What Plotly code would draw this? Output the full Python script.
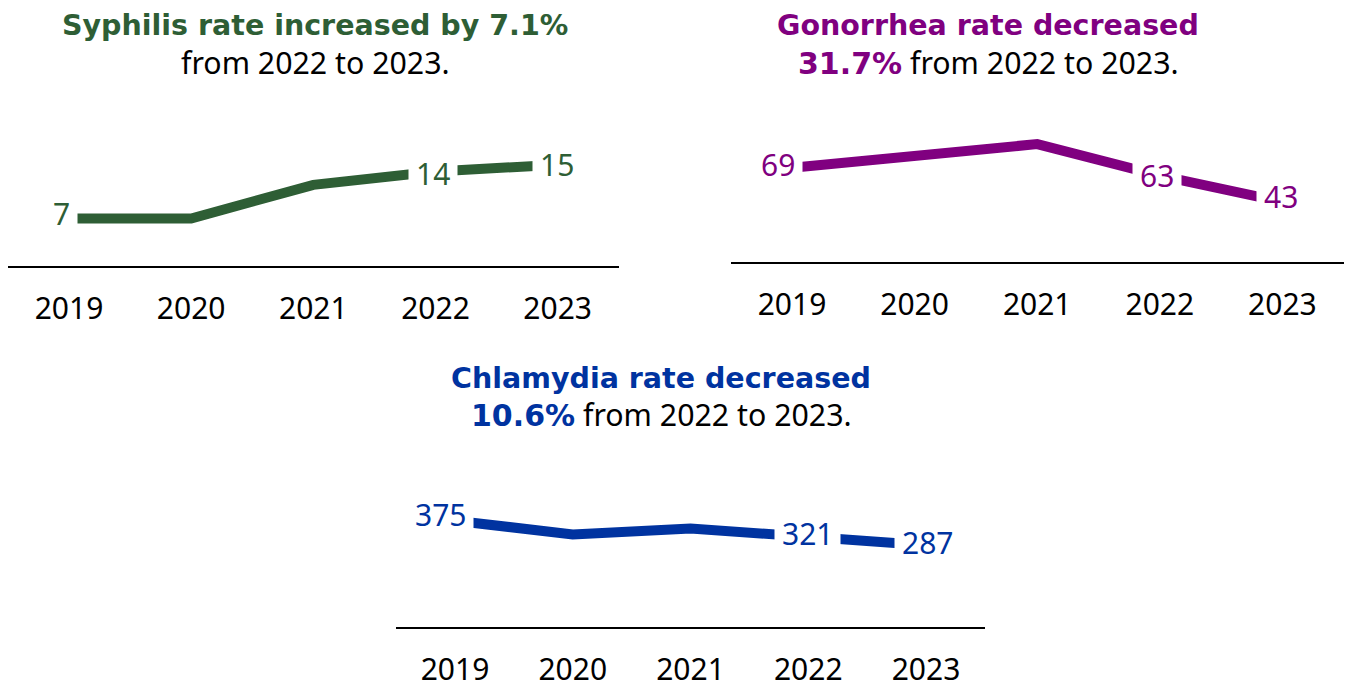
import plotly.graph_objects as go

# ---------------- data ----------------
years = ["2019", "2020", "2021", "2022", "2023"]
syphilis = [7, 7, 12, 14, 15]
gonorrhea = [69, 78, 87, 63, 43]
chlamydia = [375, 326, 347, 321, 287]
labeled_idx = [0, 3, 4]          # years that carry a data label

GREEN = "#2E5E35"
PURPLE = "#800080"
BLUE = "#0033A0"
FONT = "Noto Sans"
BOLD = "DejaVu Sans"

W, H = 1347, 689
K = 1 / 0.9914   # vertical compensation observed in the rendered page


def bold(txt, color, size):
    return ("<span style=\"font-family:'%s';font-weight:bold;color:%s;font-size:%spx\">%s</span>"
            % (BOLD, color, size, txt))


syph_title = [bold("Syphilis rate increased by 7.1%", GREEN, 28.5), "from 2022 to 2023."]
gono_title = [bold("Gonorrhea rate decreased", PURPLE, 28.5),
              bold("31.7%", PURPLE, 30) + " from 2022 to 2023."]
chla_title = [bold("Chlamydia rate decreased", BLUE, 28.5),
              bold("10.6%", BLUE, 30) + " from 2022 to 2023."]


def xdom(a, b):
    return [a / W, b / W]


def ydom(top, bottom):
    return [1 - bottom * K / H, 1 - top * K / H]


panels = [
    dict(v=syphilis, c=GREEN, ax="", xd=(7.9, 618.7), yd=(120, 268.3), yr=[0, 21.84],
         title=syph_title, tx=315.3, ty=(25.3, 63.5),
         lx=(-7, -2, -1), ly=(5, -2, 0)),
    dict(v=gonorrhea, c=PURPLE, ax="2", xd=(730.7, 1343.7), yd=(120, 265), yr=[-3, 106.27],
         title=gono_title, tx=988, ty=(25.3, 63.5),
         lx=(-14, -3, -1), ly=(3.5, 0, 5)),
    dict(v=chlamydia, c=BLUE, ax="3", xd=(396.1, 984.9), yd=(470, 634), yr=[-9, 575.3],
         title=chla_title, tx=661, ty=(382.5, 419.2),
         lx=(-14, -1, 1), ly=(6, 2, 3)),
]

fig = go.Figure()
annotations = []
layout_axes = {}

for p in panels:
    ax = p["ax"]
    xref = "x" + ax
    yref = "y" + ax
    fig.add_trace(go.Scatter(
        x=years, y=p["v"], mode="lines",
        line=dict(color=p["c"], width=10),
        xaxis=xref, yaxis=yref, showlegend=False, hoverinfo="skip",
    ))
    layout_axes["xaxis" + ax] = dict(
        domain=xdom(*p["xd"]), anchor=yref, type="category",
        range=[-0.5, 4.5], showgrid=False, zeroline=False,
        showline=True, linecolor="black", linewidth=2,
        ticks="outside", ticklen=15, tickcolor="rgba(0,0,0,0)",
        tickfont=dict(family=FONT, size=30, color="black"),
        fixedrange=True,
    )
    layout_axes["yaxis" + ax] = dict(
        domain=ydom(*p["yd"]), anchor=xref, range=p["yr"],
        visible=False, fixedrange=True,
    )
    for k, i in enumerate(labeled_idx):
        annotations.append(dict(
            x=i, y=p["v"][i], xref=xref, yref=yref,
            text=str(p["v"][i]), showarrow=False,
            xanchor="center", yanchor="middle",
            xshift=p["lx"][k], yshift=p["ly"][k],
            bgcolor="white", borderpad=7,
            font=dict(family=FONT, size=30, color=p["c"]),
        ))
    for line, yy in zip(p["title"], p["ty"]):
        annotations.append(dict(
            x=p["tx"] / W, y=1 - yy * K / H, xref="paper", yref="paper",
            text=line, showarrow=False, xanchor="center", yanchor="middle",
            font=dict(family=FONT, size=30.3, color="black"),
        ))

fig.update_layout(
    width=W, height=H, margin=dict(l=0, r=0, t=0, b=0),
    paper_bgcolor="white", plot_bgcolor="white",
    annotations=annotations, **layout_axes,
)

fig.write_html(
    "out.html",
    config={"displayModeBar": False},
    post_script=(
        "document.documentElement.style.margin='0';"
        "document.body.style.margin='0';"
        "document.documentElement.style.overflow='hidden';"
        "document.body.style.overflow='hidden';"
    ),
)
